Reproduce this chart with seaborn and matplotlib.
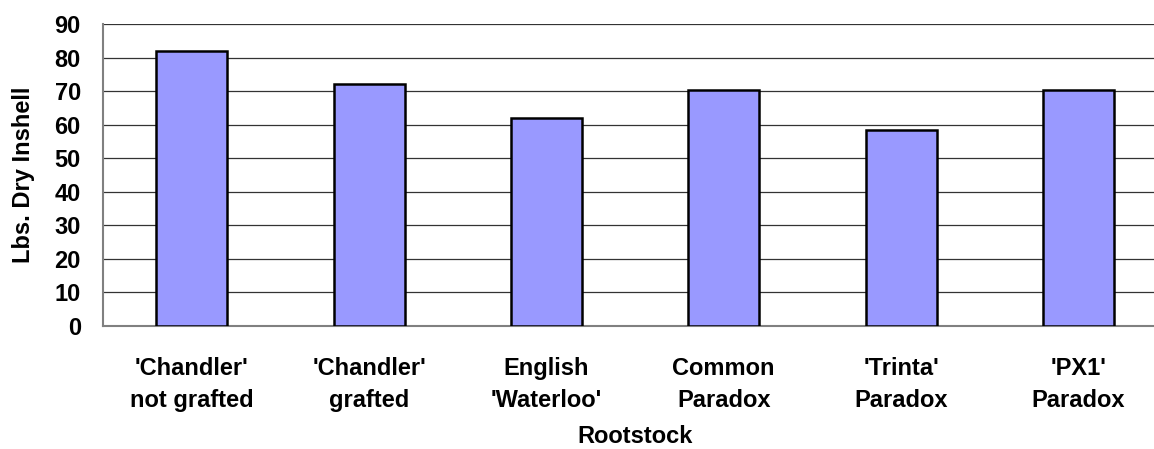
import numpy as np
import pandas as pd
import seaborn as sns
import matplotlib.pyplot as plt

rootstocks = ["'Chandler'\nnot grafted", "'Chandler'\ngrafted", "English\n'Waterloo'",
              "Common\nParadox", "'Trinta'\nParadox", "'PX1'\nParadox"]
dry_inshell = [82.0, 72.2, 62.0, 70.3, 58.4, 70.2]
yticks = list(range(0, 91, 10))

df = pd.DataFrame({'Rootstock': rootstocks, 'Lbs': dry_inshell})

sns.set_style('white')
plt.rcParams['font.family'] = ['Liberation Sans', 'DejaVu Sans']
plt.rcParams['font.weight'] = 'bold'
plt.rcParams['text.color'] = 'black'
plt.rcParams['axes.labelcolor'] = 'black'
plt.rcParams['xtick.labelcolor'] = 'black'
plt.rcParams['ytick.labelcolor'] = 'black'

fig = plt.figure(figsize=(11.54, 4.49), dpi=100)
ax = fig.add_axes([0.0893, 0.274, 0.922, 0.6726])

sns.barplot(data=df, x='Rootstock', y='Lbs', color='#9999FF', saturation=1,
            edgecolor='black', linewidth=1.8, width=0.4, ax=ax, zorder=3)

ax.set_ylim(0, 90)
ax.set_xlim(-0.5, len(rootstocks) - 0.5)
ax.set_yticks(yticks)
ax.yaxis.grid(True, color='#333333', linewidth=0.9, zorder=0)
ax.set_axisbelow(True)

for s in ['top', 'right']:
    ax.spines[s].set_visible(False)
for s in ['left', 'bottom']:
    ax.spines[s].set_color('#808080')
    ax.spines[s].set_linewidth(1.5)

ax.set_xticks(np.arange(len(rootstocks)))
ax.set_xticklabels(rootstocks, fontsize=17, fontweight='bold', linespacing=1.55)
ax.set_xticks(np.arange(len(rootstocks) + 1) - 0.5, minor=True)
ax.tick_params(axis='x', which='major', length=0, pad=22)
ax.tick_params(axis='x', which='minor', length=7, width=1.2, color='#808080', direction='out')
ax.tick_params(axis='y', length=6, width=1.2, color='#808080', direction='out', pad=10,
               labelsize=17)
for t in ax.get_yticklabels():
    t.set_fontweight('bold')

ax.set_xlabel('Rootstock', fontsize=17, fontweight='bold', labelpad=9)
ax.set_ylabel('Lbs. Dry Inshell', fontsize=17, fontweight='bold', labelpad=14)

fig.savefig('out.png', dpi=100)
